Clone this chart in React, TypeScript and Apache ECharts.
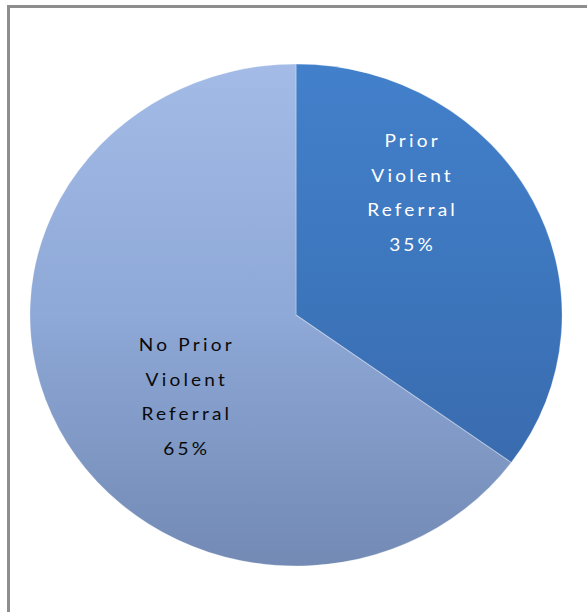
import React, { useEffect, useRef } from "react";
import * as echarts from "echarts";

const categories = ["Prior Violent Referral", "No Prior Violent Referral"];
const values = [35, 65];

const sliceColors = [
  ["#4380cb", "#3d77be", "#3a6baf"],
  ["#a3bbe6", "#8ea8d7", "#728ab4"],
];
const labelColors = ["#ffffff", "#0a0a0a"];
const labelOffsets = [
  [110, -123],
  [-103, 81],
];

export default function App() {
  const ref = useRef<HTMLDivElement>(null);
  useEffect(() => {
    if (!ref.current) return;
    const chart = echarts.init(ref.current, null, { renderer: "svg" });
    chart.setOption({
      animation: false,
      backgroundColor: "transparent",
      series: [
        {
          type: "pie",
          center: [296, 315],
          radius: [0, 251],
          startAngle: 90,
          clockwise: true,
          silent: true,
          label: {
            show: true,
            position: "center",
            fontFamily: "Lato, 'Open Sans', sans-serif",
            fontSize: 18,
            lineHeight: 34.5,
            align: "center",
            formatter: (p: any) =>
              p.name.replace(/ (Violent|Referral)/g, "\n$1") + "\n" + p.value + "%",
          },
          labelLine: { show: false },
          emphasis: { disabled: true },
          itemStyle: {
            borderColor: "rgba(255,255,255,0.3)",
            borderWidth: 1,
          },
          data: categories.map((name, i) => ({
            name,
            value: values[i],
            itemStyle: {
              color: new echarts.graphic.LinearGradient(0, 0, 0, 1, [
                { offset: 0, color: sliceColors[i][0] },
                { offset: 0.5, color: sliceColors[i][1] },
                { offset: 1, color: sliceColors[i][2] },
              ]),
            },
            label: {
              color: labelColors[i],
              offset: labelOffsets[i],
            },
          })),
        },
      ],
    });
    return () => chart.dispose();
  }, []);

  return (
    <div
      style={{
        position: "fixed",
        left: 0,
        top: 0,
        width: 587,
        height: 612,
        overflow: "hidden",
        background: "#ffffff",
      }}
    >
      <div
        style={{
          position: "absolute",
          left: 7,
          top: 5,
          width: 640,
          height: 660,
          borderLeft: "3px solid #8e8e8e",
          borderTop: "3px solid #8e8e8e",
        }}
      />
      <div
        ref={ref}
        style={{
          position: "absolute",
          left: 0,
          top: 0,
          width: 587,
          height: 612,
          transform: "scaleX(1.06)",
          transformOrigin: "296px 315px",
          letterSpacing: "3px",
        }}
      />
    </div>
  );
}
